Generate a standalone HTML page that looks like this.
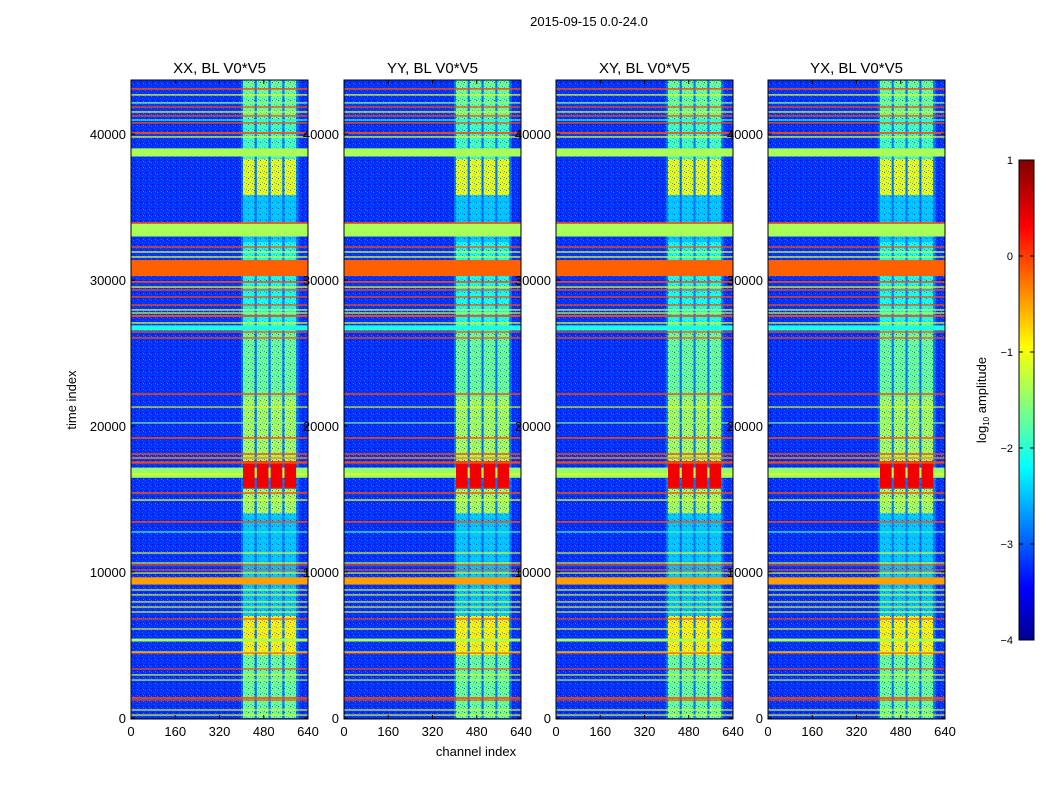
<!DOCTYPE html>
<html><head><meta charset="utf-8"><style>
body{margin:0;background:#fff;}
svg{display:block;font-family:"Liberation Sans",sans-serif;}
</style></head><body>
<svg id="fig" width="1050" height="800" viewBox="0 0 1050 800">
<defs>
<linearGradient id="jet" x1="0" y1="1" x2="0" y2="0">
<stop offset="0" stop-color="#00008f"/><stop offset="0.11" stop-color="#0000ff"/>
<stop offset="0.36" stop-color="#00ffff"/><stop offset="0.61" stop-color="#ffff00"/>
<stop offset="0.86" stop-color="#ff0000"/><stop offset="1" stop-color="#800000"/>
</linearGradient>
<pattern id="speck" width="6" height="6" patternUnits="userSpaceOnUse">
<rect x="1" y="0" width="1" height="1" fill="#00c8ff"/><rect x="4" y="2" width="1" height="1" fill="#0090ff"/>
<rect x="2" y="4" width="1" height="1" fill="#000080"/><rect x="5" y="5" width="1" height="1" fill="#00e0ff"/>
<rect x="0" y="3" width="1" height="1" fill="#0060ff"/>
</pattern>
</defs>
<text x="589" y="26" text-anchor="middle" font-size="13">2015-09-15 0.0-24.0</text>
<g id="panels"></g>
<text x="476" y="756" text-anchor="middle" font-size="13">channel index</text>
<text transform="translate(76,400) rotate(-90)" text-anchor="middle" font-size="13">time index</text>
<g>
<rect x="1019" y="160" width="15" height="480" fill="url(#jet)" stroke="#000" stroke-width="1"/>
<g id="cbticks"></g>
<text transform="translate(986,400) rotate(-90)" text-anchor="middle" font-size="13">log<tspan font-size="8" dy="3">10</tspan><tspan dy="-3"> amplitude</tspan></text>
</g>
</svg>
<script>
// ---- data ----
const panelTitles = ["XX, BL V0*V5","YY, BL V0*V5","XY, BL V0*V5","YX, BL V0*V5"];
const xTicks = [0,160,320,480,640];
const yTicks = [0,10000,20000,30000,40000];
const cbTicks = [1,0,-1,-2,-3,-4];
const bandChannels = [[405,447],[455,497],[505,547],[555,597]];
// [tStart, tEnd, log amplitude] for channel bands
const bandSegments = [[41000,43700,-1.6],[38300,41000,-1.8],[35800,38300,-1.0],[32600,35800,-2.4],[27000,32600,-2.0],[22000,27000,-1.6],[17600,22000,-1.3],[15700,17600,0.3],[14000,15700,-1.3],[7000,14000,-2.4],[4300,7000,-0.8],[0,4300,-1.6]];
// strongest band segments drawn on top of stripes
const hotSegments = [[15800,17400,0.45]];
// horizontal stripes: time, thickness, log amplitude
const stripeTimes = [43090,42680,42130,41850,41510,41240,40960,40760,40070,39800,38740,33430,33900,32260,31920,31580,30820,29870,29520,29320,28840,28290,27950,27740,27540,27060,26720,26440,26030,22190,21300,20210,19180,18080,17810,17500,16800,16700,15410,14930,13430,12740,11300,10620,10480,10140,9930,9390,8770,8430,7950,7600,7260,6780,6100,5340,4520,4450,3360,2950,2600,1370,1230,550,200];
const stripeWidths = [100,90,90,90,90,90,90,90,120,90,560,900,110,90,90,90,1100,110,90,90,90,90,90,90,130,90,350,90,90,100,80,80,100,100,100,150,700,100,100,90,100,80,80,80,80,80,80,500,80,80,80,80,80,80,80,200,80,80,80,80,80,110,80,80,80];
const stripeValues = [0,-1,-1.5,0,-1,0,-2,0,0,-1,-1.3,-1.3,0,0,-1,-1,-0.1,0,-1,0,0,0,-1,-1.3,0,-1,-2,0,0,0,-1,-1.5,0,0,-0.3,0,-1.4,-0.8,0,-1,0,-1.7,-1,-1,0,0,-1,-0.4,-1,-1,-1,-1,-1,0,-1,-1.3,-1,0,0,-1,-1.2,0,0,-1,-1];
const bgValue = -3.15, haloValue = -2.8;

// ---- scales ----
const panelX = [131,344,556,768], PW=177, PY0=80, PY1=719;
const tMax = 43700, chMax = 640;
const ns="http://www.w3.org/2000/svg";
function jet(val){const v=(val+4)/5;const c=x=>Math.round(255*Math.max(0,Math.min(1,x)));
 return `rgb(${c(1.5-Math.abs(4*v-3))},${c(1.5-Math.abs(4*v-2))},${c(1.5-Math.abs(4*v-1))})`;}
function el(tag,attrs,parent){const e=document.createElementNS(ns,tag);for(const k in attrs)e.setAttribute(k,attrs[k]);parent.appendChild(e);return e;}
const panels=document.getElementById('panels');
panelTitles.forEach((title,i)=>{
 const x0=panelX[i];
 const sx=ch=>x0+ch/chMax*PW;
 const sy=t=>PY1-1-t/tMax*(PY1-1-PY0);
 const g=el('g',{},panels);
 
 
 const bg=el('rect',{x:x0,y:PY0,width:PW,height:PY1-PY0,fill:jet(bgValue)},g);
 
 
 const halo=el('rect',{x:sx(398),y:PY0,width:sx(606)-sx(398),height:PY1-PY0,fill:jet(haloValue)},g);
 
 
 bandChannels.forEach(b=>{bandSegments.forEach(s=>{
  const r=el('rect',{x:sx(b[0]),width:sx(b[1])-sx(b[0]),y:sy(s[1]),height:sy(s[0])-sy(s[1]),fill:jet(s[2])},g);
  
  
 });});
 const nz=el('rect',{x:x0,y:PY0,width:PW,height:PY1-PY0,fill:'url(#speck)',opacity:0.6},g);
 
 
 stripeTimes.forEach((t,k)=>{
  const w=stripeWidths[k];
  const r=el('rect',{x:x0,width:PW,y:sy(t+w/2),height:Math.max(1,sy(t-w/2)-sy(t+w/2)),fill:jet(stripeValues[k])},g);
  
  
 });
 bandChannels.forEach(b=>{hotSegments.forEach(s=>{
  const r=el('rect',{x:sx(b[0]),width:sx(b[1])-sx(b[0]),y:sy(s[1]),height:sy(s[0])-sy(s[1]),fill:jet(s[2])},g);
  
  
 });});
 const fr=el('rect',{x:x0,y:PY0,width:PW,height:PY1-PY0,fill:'none',stroke:'#000','stroke-width':1},g);
 
 
 const tt=el('text',{x:x0+PW/2,y:73,'text-anchor':'middle','font-size':15},g);tt.textContent=title;
 
 
 xTicks.forEach(v=>{const x=sx(v);
  el('line',{x1:x,x2:x,y1:PY1,y2:PY1-4,stroke:'#000'},g);el('line',{x1:x,x2:x,y1:PY0,y2:PY0+4,stroke:'#000'},g);
  const tx=el('text',{x:x,y:736,'text-anchor':'middle','font-size':13},g);tx.textContent=v;
  
  });
 yTicks.forEach(v=>{const y=sy(v);
  el('line',{x1:x0,x2:x0+4,y1:y,y2:y,stroke:'#000'},g);el('line',{x1:x0+PW,x2:x0+PW-4,y1:y,y2:y,stroke:'#000'},g);
  const ty=el('text',{x:x0-5,y:y+5,'text-anchor':'end','font-size':13},g);ty.textContent=v;
  
  });
});
const cb=document.getElementById('cbticks');
cbTicks.forEach(v=>{const y=160+(1-v)/5*480;
 el('line',{x1:1019,x2:1023,y1:y,y2:y,stroke:'#000'},cb);el('line',{x1:1030,x2:1034,y1:y,y2:y,stroke:'#000'},cb);
 const t=el('text',{x:1013,y:y+4,'text-anchor':'end','font-size':11},cb);t.textContent=v<0?'\u2212'+(-v):v;
 
 });
</script>
</body></html>
